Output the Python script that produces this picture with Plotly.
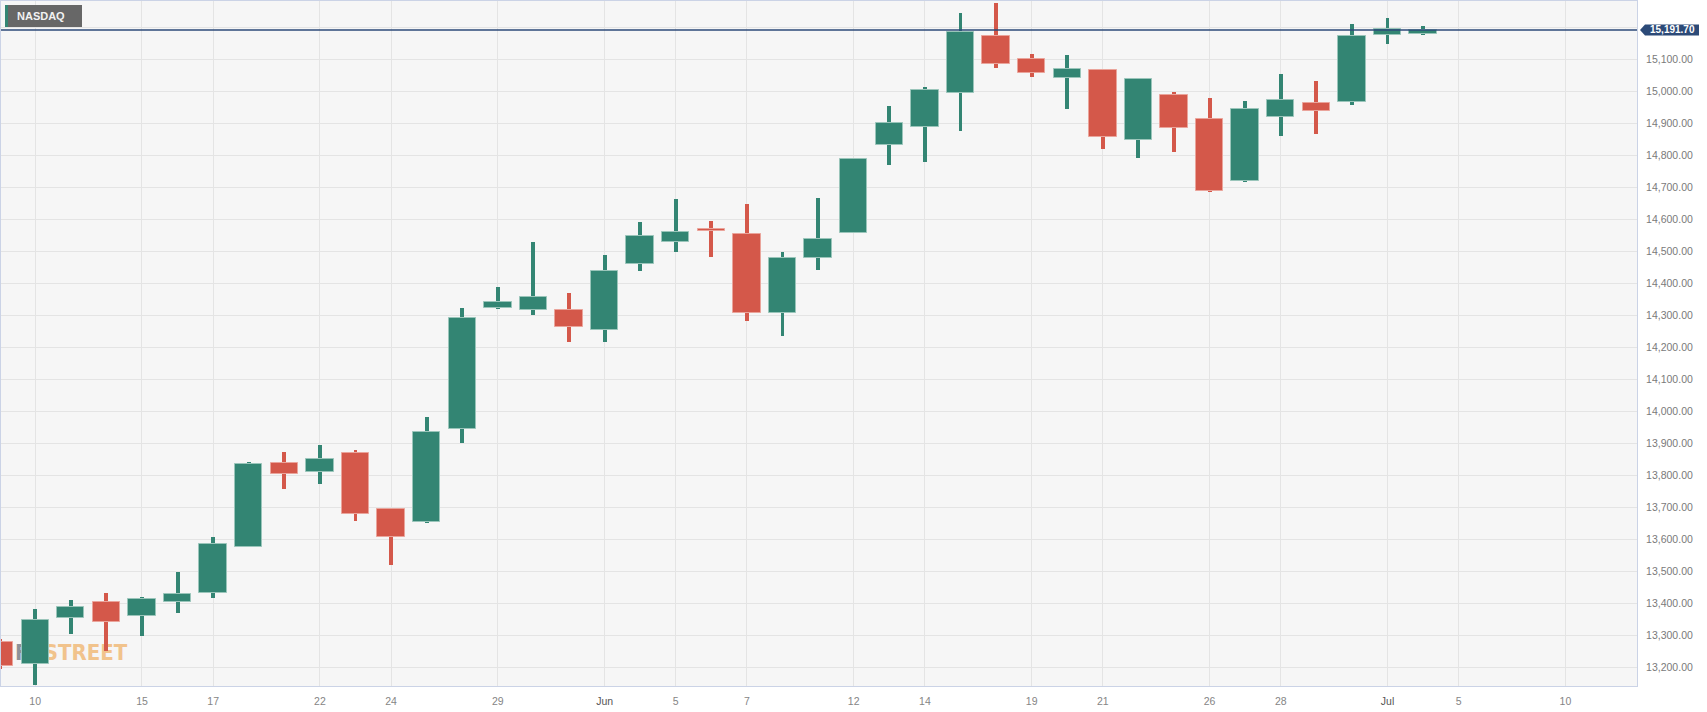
import plotly.graph_objects as go

# ---------------- data ----------------
DATES = [
    "2023-05-09", "2023-05-10", "2023-05-11", "2023-05-12", "2023-05-15", "2023-05-16",
    "2023-05-17", "2023-05-18", "2023-05-19", "2023-05-22", "2023-05-23", "2023-05-24",
    "2023-05-25", "2023-05-26", "2023-05-29", "2023-05-30", "2023-05-31", "2023-06-01",
    "2023-06-02", "2023-06-05", "2023-06-06", "2023-06-07", "2023-06-08", "2023-06-09",
    "2023-06-12", "2023-06-13", "2023-06-14", "2023-06-15", "2023-06-16", "2023-06-19",
    "2023-06-20", "2023-06-21", "2023-06-22", "2023-06-23", "2023-06-26", "2023-06-27",
    "2023-06-28", "2023-06-29", "2023-06-30", "2023-07-03", "2023-07-04",
]
OPEN = [13278, 13209, 13355, 13405, 13359, 13405, 13431, 13576, 13837, 13811, 13869, 13694,
        13655, 13945, 14323, 14317, 14317, 14254, 14459, 14528, 14569, 14553, 14308, 14480,
        14558, 14831, 14890, 14996, 15173, 15101, 15041, 15066, 14849, 14989, 14912, 14720,
        14920, 14962, 14968, 15176, 15178]
HIGH = [13290, 13382, 13410, 13432, 13420, 13498, 13607, 13842, 13873, 13895, 13879, 13695,
        13982, 14323, 14389, 14529, 14370, 14489, 14592, 14664, 14596, 14649, 14498, 14667,
        14792, 14954, 15014, 15245, 15276, 15117, 15114, 15070, 15039, 14998, 14980, 14971,
        15053, 15033, 15210, 15229, 15204]
LOW = [13194, 13145, 13305, 13252, 13299, 13371, 13418, 13576, 13757, 13774, 13658, 13521,
       13652, 13901, 14321, 14301, 14217, 14217, 14440, 14498, 14482, 14282, 14235, 14442,
       14556, 14770, 14779, 14876, 15073, 15045, 14946, 14820, 14792, 14811, 14686, 14718,
       14859, 14868, 14957, 15148, 15177]
CLOSE = [13205, 13347, 13388, 13341, 13414, 13428, 13585, 13834, 13803, 13850, 13678, 13606,
         13934, 14291, 14342, 14356, 14265, 14437, 14548, 14559, 14563, 14308, 14479, 14539,
         14789, 14901, 15004, 15185, 15085, 15056, 15069, 14858, 15037, 14886, 14690, 14946,
         14974, 14938, 15172, 15194, 15191.70]
LAST_PRICE = 15191.70
SYMBOL = "NASDAQ"

X_TICK_DATES = ["2023-05-10", "2023-05-15", "2023-05-17", "2023-05-22", "2023-05-24",
                "2023-05-29", "2023-06-01", "2023-06-05", "2023-06-07", "2023-06-12",
                "2023-06-14", "2023-06-19", "2023-06-21", "2023-06-26", "2023-06-28",
                "2023-07-03", "2023-07-05", "2023-07-10"]
X_TICK_LABELS = ["10", "15", "17", "22", "24", "29", "Jun", "5", "7", "12", "14", "19",
                 "21", "26", "28", "Jul", "5", "10"]
Y_TICKS = [13200, 13300, 13400, 13500, 13600, 13700, 13800, 13900, 14000, 14100, 14200,
           14300, 14400, 14500, 14600, 14700, 14800, 14900, 15000, 15100, 15200]

# ---------------- styles ----------------
UP, DOWN = "#338573", "#d4584a"
UP_EDGE, DOWN_EDGE = "#9ac5ba", "#eaa49b"
PRICE_COL = "#2c4a78"
DAY_MS = 86400000
FONT = "Liberation Sans, Arial, sans-serif"

is_up = [c >= o for o, c in zip(OPEN, CLOSE)]
colors = [UP if u else DOWN for u in is_up]
edges = [UP_EDGE if u else DOWN_EDGE for u in is_up]

fig = go.Figure()

# watermark on the base (hidden) subplot so it sits beneath the candles
fig.add_trace(go.Scatter(
    x=[0.0085], y=[0.046], mode="text", xaxis="x", yaxis="y",
    text=["<b><span style='color:#8e9198'>FX</span><span style='color:#f1c38c'>STREET</span></b>"],
    textposition="middle right",
    textfont=dict(family="Liberation Sans Narrow, DejaVu Sans Condensed, sans-serif", size=22),
    hoverinfo="skip", showlegend=False,
))

# wicks
fig.add_trace(go.Bar(
    x=DATES, base=LOW, y=[h - l for h, l in zip(HIGH, LOW)], xaxis="x2", yaxis="y2",
    width=0.11 * DAY_MS, marker=dict(color=colors, line=dict(width=0)),
    hoverinfo="skip", showlegend=False,
))
# bodies
fig.add_trace(go.Bar(
    x=DATES, base=[min(o, c) for o, c in zip(OPEN, CLOSE)],
    y=[abs(c - o) for o, c in zip(OPEN, CLOSE)], xaxis="x2", yaxis="y2",
    width=0.77 * DAY_MS, marker=dict(color=colors, line=dict(width=1, color=edges)),
    customdata=list(zip(OPEN, HIGH, LOW, CLOSE)),
    hovertemplate="O %{customdata[0]}<br>H %{customdata[1]}<br>L %{customdata[2]}<br>C %{customdata[3]}<extra></extra>",
    showlegend=False,
))

y_text = ["" if v == 15200 else f"{v:,.2f}" for v in Y_TICKS]
x_text = [f"<span style='color:#555'>{t}</span>" if t in ("Jun", "Jul") else t for t in X_TICK_LABELS]

fig.update_layout(
    width=1707, height=712,
    margin=dict(l=1, r=70, t=1, b=26),
    paper_bgcolor="white", plot_bgcolor="#f6f6f6",
    barmode="overlay", bargap=0, showlegend=False,
    font=dict(family=FONT, size=10.5, color="#7d7d7d"),
    xaxis=dict(range=[0, 1], visible=False, fixedrange=True),
    yaxis=dict(range=[0, 1], visible=False, fixedrange=True),
    xaxis2=dict(
        overlaying="x", anchor="y2",
        type="date", rangebreaks=[dict(bounds=["sat", "mon"])],
        range=["2023-05-09 00:56", "2023-07-12 00:15"],
        tickvals=X_TICK_DATES, ticktext=x_text,
        showgrid=True, gridcolor="#e4e4e4", gridwidth=1,
        showline=True, linecolor="#cbd3e6", linewidth=1, mirror=True,
        ticks="outside", ticklen=5, tickcolor="rgba(0,0,0,0)",
        tickfont=dict(size=10.5, color="#858585"), fixedrange=True,
    ),
    yaxis2=dict(
        overlaying="y", anchor="x2", side="right", range=[13141.6, 15282.2],
        tickvals=Y_TICKS, ticktext=y_text,
        showgrid=True, gridcolor="#e4e4e4", gridwidth=1, zeroline=False,
        showline=True, linecolor="#cbd3e6", linewidth=1, mirror=True,
        ticks="outside", ticklen=6, tickcolor="rgba(0,0,0,0)",
        tickfont=dict(size=10.5, color="#7a7a7a"), fixedrange=True,
    ),
)

# last price line and label
fig.add_shape(type="line", xref="paper", x0=0, x1=1, yref="y2", y0=LAST_PRICE, y1=LAST_PRICE,
              line=dict(color=PRICE_COL, width=1.6), layer="above")
fig.add_shape(type="path", xref="paper", yref="y2", xsizemode="pixel", ysizemode="pixel",
              xanchor=1, yanchor=LAST_PRICE,
              path="M3,0 L8,5.5 L62,5.5 L62,-5.5 L8,-5.5 Z",
              fillcolor=PRICE_COL, line=dict(width=0), layer="above")
fig.add_annotation(xref="paper", x=1, xshift=35, yref="y2", y=LAST_PRICE,
                   xanchor="center", yanchor="middle", showarrow=False,
                   text=f"<b>{LAST_PRICE:,.2f}</b>", font=dict(family=FONT, size=10, color="white"))

# symbol badge
fig.add_shape(type="rect", xref="paper", yref="paper", xsizemode="pixel", ysizemode="pixel",
              xanchor=0, yanchor=1, x0=4, x1=81, y0=-4, y1=-26,
              fillcolor="#676767", line=dict(width=0), layer="above")
fig.add_shape(type="rect", xref="paper", yref="paper", xsizemode="pixel", ysizemode="pixel",
              xanchor=0, yanchor=1, x0=4, x1=7, y0=-4, y1=-26,
              fillcolor=UP, line=dict(width=0), layer="above")
fig.add_annotation(xref="paper", x=0, xshift=40, yref="paper", y=1, yshift=-15,
                   xanchor="center", yanchor="middle", showarrow=False,
                   text=f"<b>{SYMBOL}</b>", font=dict(family=FONT, size=11, color="#f2f2f2"))

fig.write_html("out.html", post_script="document.body.style.margin='0';",
               config={"displayModeBar": False})
